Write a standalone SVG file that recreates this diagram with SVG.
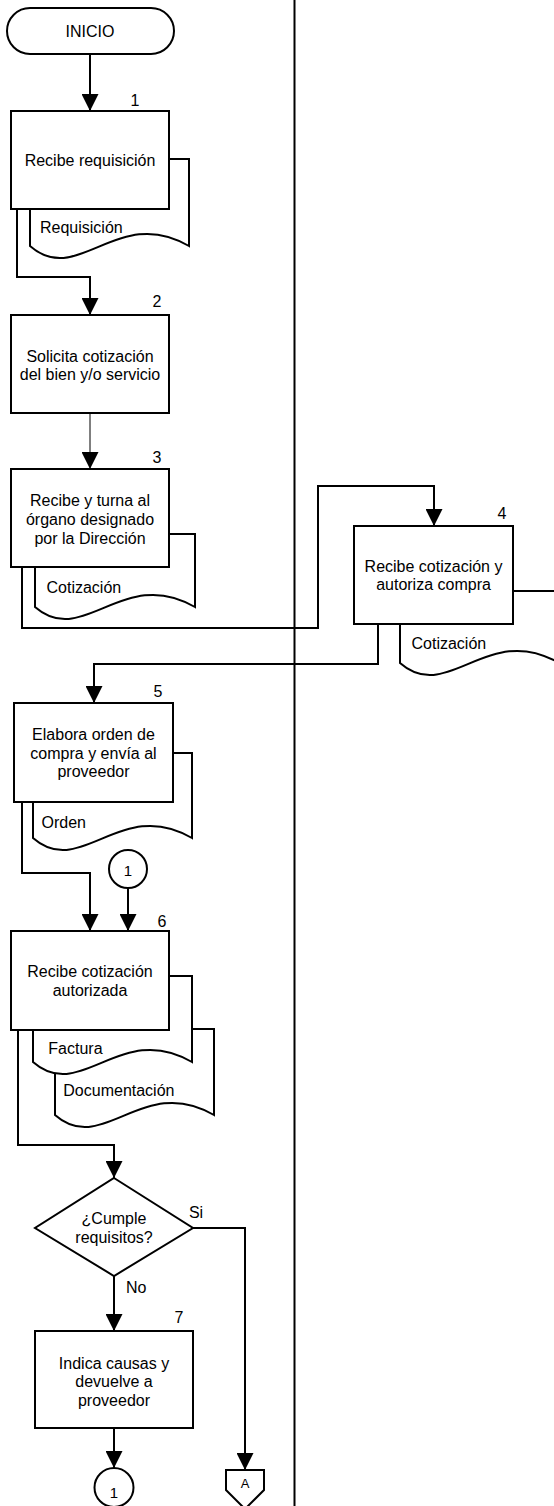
<svg xmlns="http://www.w3.org/2000/svg" width="554" height="1506" viewBox="0 0 554 1506">
<style>
.sh{fill:#fff;stroke:#000;stroke-width:2}
.doc{fill:#fff;stroke:#000;stroke-width:2;stroke-linejoin:miter}
.c{fill:none;stroke:#000;stroke-width:2}
.thin{fill:none;stroke:#000;stroke-width:1}
text{font-family:"Liberation Sans",Arial,sans-serif;font-size:16px;fill:#000}
.m{text-anchor:middle}
.s{font-size:15px}
</style>
<defs>
<marker id="ah" markerUnits="userSpaceOnUse" markerWidth="17" markerHeight="17" viewBox="0 0 17 17" refX="17" refY="8.5" orient="auto">
<path d="M0,0 L17,8.5 L0,17 Z" fill="#000"/>
</marker>
</defs>
<line x1="294.5" y1="0" x2="294.5" y2="1506" stroke="#000" stroke-width="2"/>
<g id="connectors">
<path class="c" d="M90,54 V111" marker-end="url(#ah)"/>
<path class="c" d="M17,209 V277 H90 V315" marker-end="url(#ah)"/>
<path class="thin" d="M90,413 V469" marker-end="url(#ah)"/>
<path class="c" d="M22,567 V628 H318 V486 H434 V526" marker-end="url(#ah)"/>
<path class="c" d="M378,624 V664 H94 V703" marker-end="url(#ah)"/>
<path class="c" d="M22,802 V873 H90 V931" marker-end="url(#ah)"/>
<path class="c" d="M128,888 V931" marker-end="url(#ah)"/>
<path class="c" d="M18,1030 V1145 H114 V1178" marker-end="url(#ah)"/>
<path class="c" d="M114,1276 V1331" marker-end="url(#ah)"/>
<path class="c" d="M193,1228 H245 V1470" marker-end="url(#ah)"/>
<path class="c" d="M114,1428 V1468" marker-end="url(#ah)"/>
<text x="196" y="1218" class="m">Si</text>
<text x="126" y="1293">No</text>
</g>
<g id="inicio">
<rect class="sh" x="7" y="8" width="167" height="46" rx="23" ry="23"/>
<text x="90" y="37" class="m">INICIO</text>
</g>
<g id="step1">
<path class="doc" d="M30,159 H189 V246 C117.5,204 77.7,288 30,246 Z"/>
<text x="40" y="233">Requisición</text>
<rect class="sh" x="11" y="111" width="158" height="98"/>
<text x="90" y="166" class="m">Recibe requisición</text>
<text x="135" y="106" class="m">1</text>
</g>
<g id="step2">
<rect class="sh" x="11" y="315" width="158" height="98"/>
<text x="90" y="361.5" class="m">Solicita cotización</text>
<text x="90" y="380.2" class="m">del bien y/o servicio</text>
<text x="157" y="307" class="m">2</text>
</g>
<g id="step3">
<path class="doc" d="M35,534 H195 V607 C123,565 83,649 35,607 Z"/>
<text x="46.5" y="592.5">Cotización</text>
<rect class="sh" x="11" y="469" width="158" height="98"/>
<text x="90" y="506.3" class="m">Recibe y turna al</text>
<text x="90" y="525" class="m">órgano designado</text>
<text x="90" y="543.7" class="m">por la Dirección</text>
<text x="157" y="463" class="m">3</text>
</g>
<g id="step4">
<path class="doc" d="M400,591 H559 V663 C487.5,621 447.7,705 400,663 Z"/>
<text x="411.5" y="649">Cotización</text>
<rect class="sh" x="354" y="526" width="159" height="98"/>
<text x="433.5" y="571.7" class="m">Recibe cotización y</text>
<text x="433.5" y="590.4" class="m">autoriza compra</text>
<text x="502" y="519" class="m">4</text>
</g>
<g id="step5">
<path class="doc" d="M33,753 H192 V838 C120.5,796 80.7,880 33,838 Z"/>
<text x="41.5" y="828">Orden</text>
<rect class="sh" x="14" y="703" width="159" height="99"/>
<text x="93.5" y="740" class="m">Elabora orden de</text>
<text x="93.5" y="758.7" class="m">compra y envía al</text>
<text x="93.5" y="777.4" class="m">proveedor</text>
<text x="158" y="697" class="m">5</text>
</g>
<g id="conn1top">
<circle class="sh" cx="128" cy="869" r="19"/>
<text x="128" y="875.5" class="m s">1</text>
</g>
<g id="step6">
<path class="doc" d="M55,1029 H214 V1115 C142.5,1073 102.7,1157 55,1115 Z"/>
<text x="63.3" y="1096">Documentación</text>
<path class="doc" d="M33,976 H192 V1062 C120.5,1020 80.7,1104 33,1062 Z"/>
<text x="48.3" y="1054">Factura</text>
<rect class="sh" x="11" y="931" width="158" height="99"/>
<text x="90" y="977.2" class="m">Recibe cotización</text>
<text x="90" y="995.9" class="m">autorizada</text>
<text x="162" y="927" class="m">6</text>
</g>
<g id="decision">
<polygon class="sh" points="114,1178 193,1228 114,1276 35,1228"/>
<text x="114" y="1224" class="m">¿Cumple</text>
<text x="114" y="1242.7" class="m">requisitos?</text>
</g>
<g id="step7">
<rect class="sh" x="35" y="1331" width="158" height="97"/>
<text x="114" y="1368.5" class="m">Indica causas y</text>
<text x="114" y="1387.2" class="m">devuelve a</text>
<text x="114" y="1405.9" class="m">proveedor</text>
<text x="179" y="1323" class="m">7</text>
</g>
<g id="conn1bottom">
<circle class="sh" cx="114" cy="1487.5" r="19.5"/>
<text x="114" y="1498" class="m s">1</text>
</g>
<g id="offpageA">
<polygon class="sh" points="226,1470 264,1470 264,1490 245,1509 226,1490"/>
<text x="245" y="1488" class="m" style="font-size:13px">A</text>
</g>
</svg>
